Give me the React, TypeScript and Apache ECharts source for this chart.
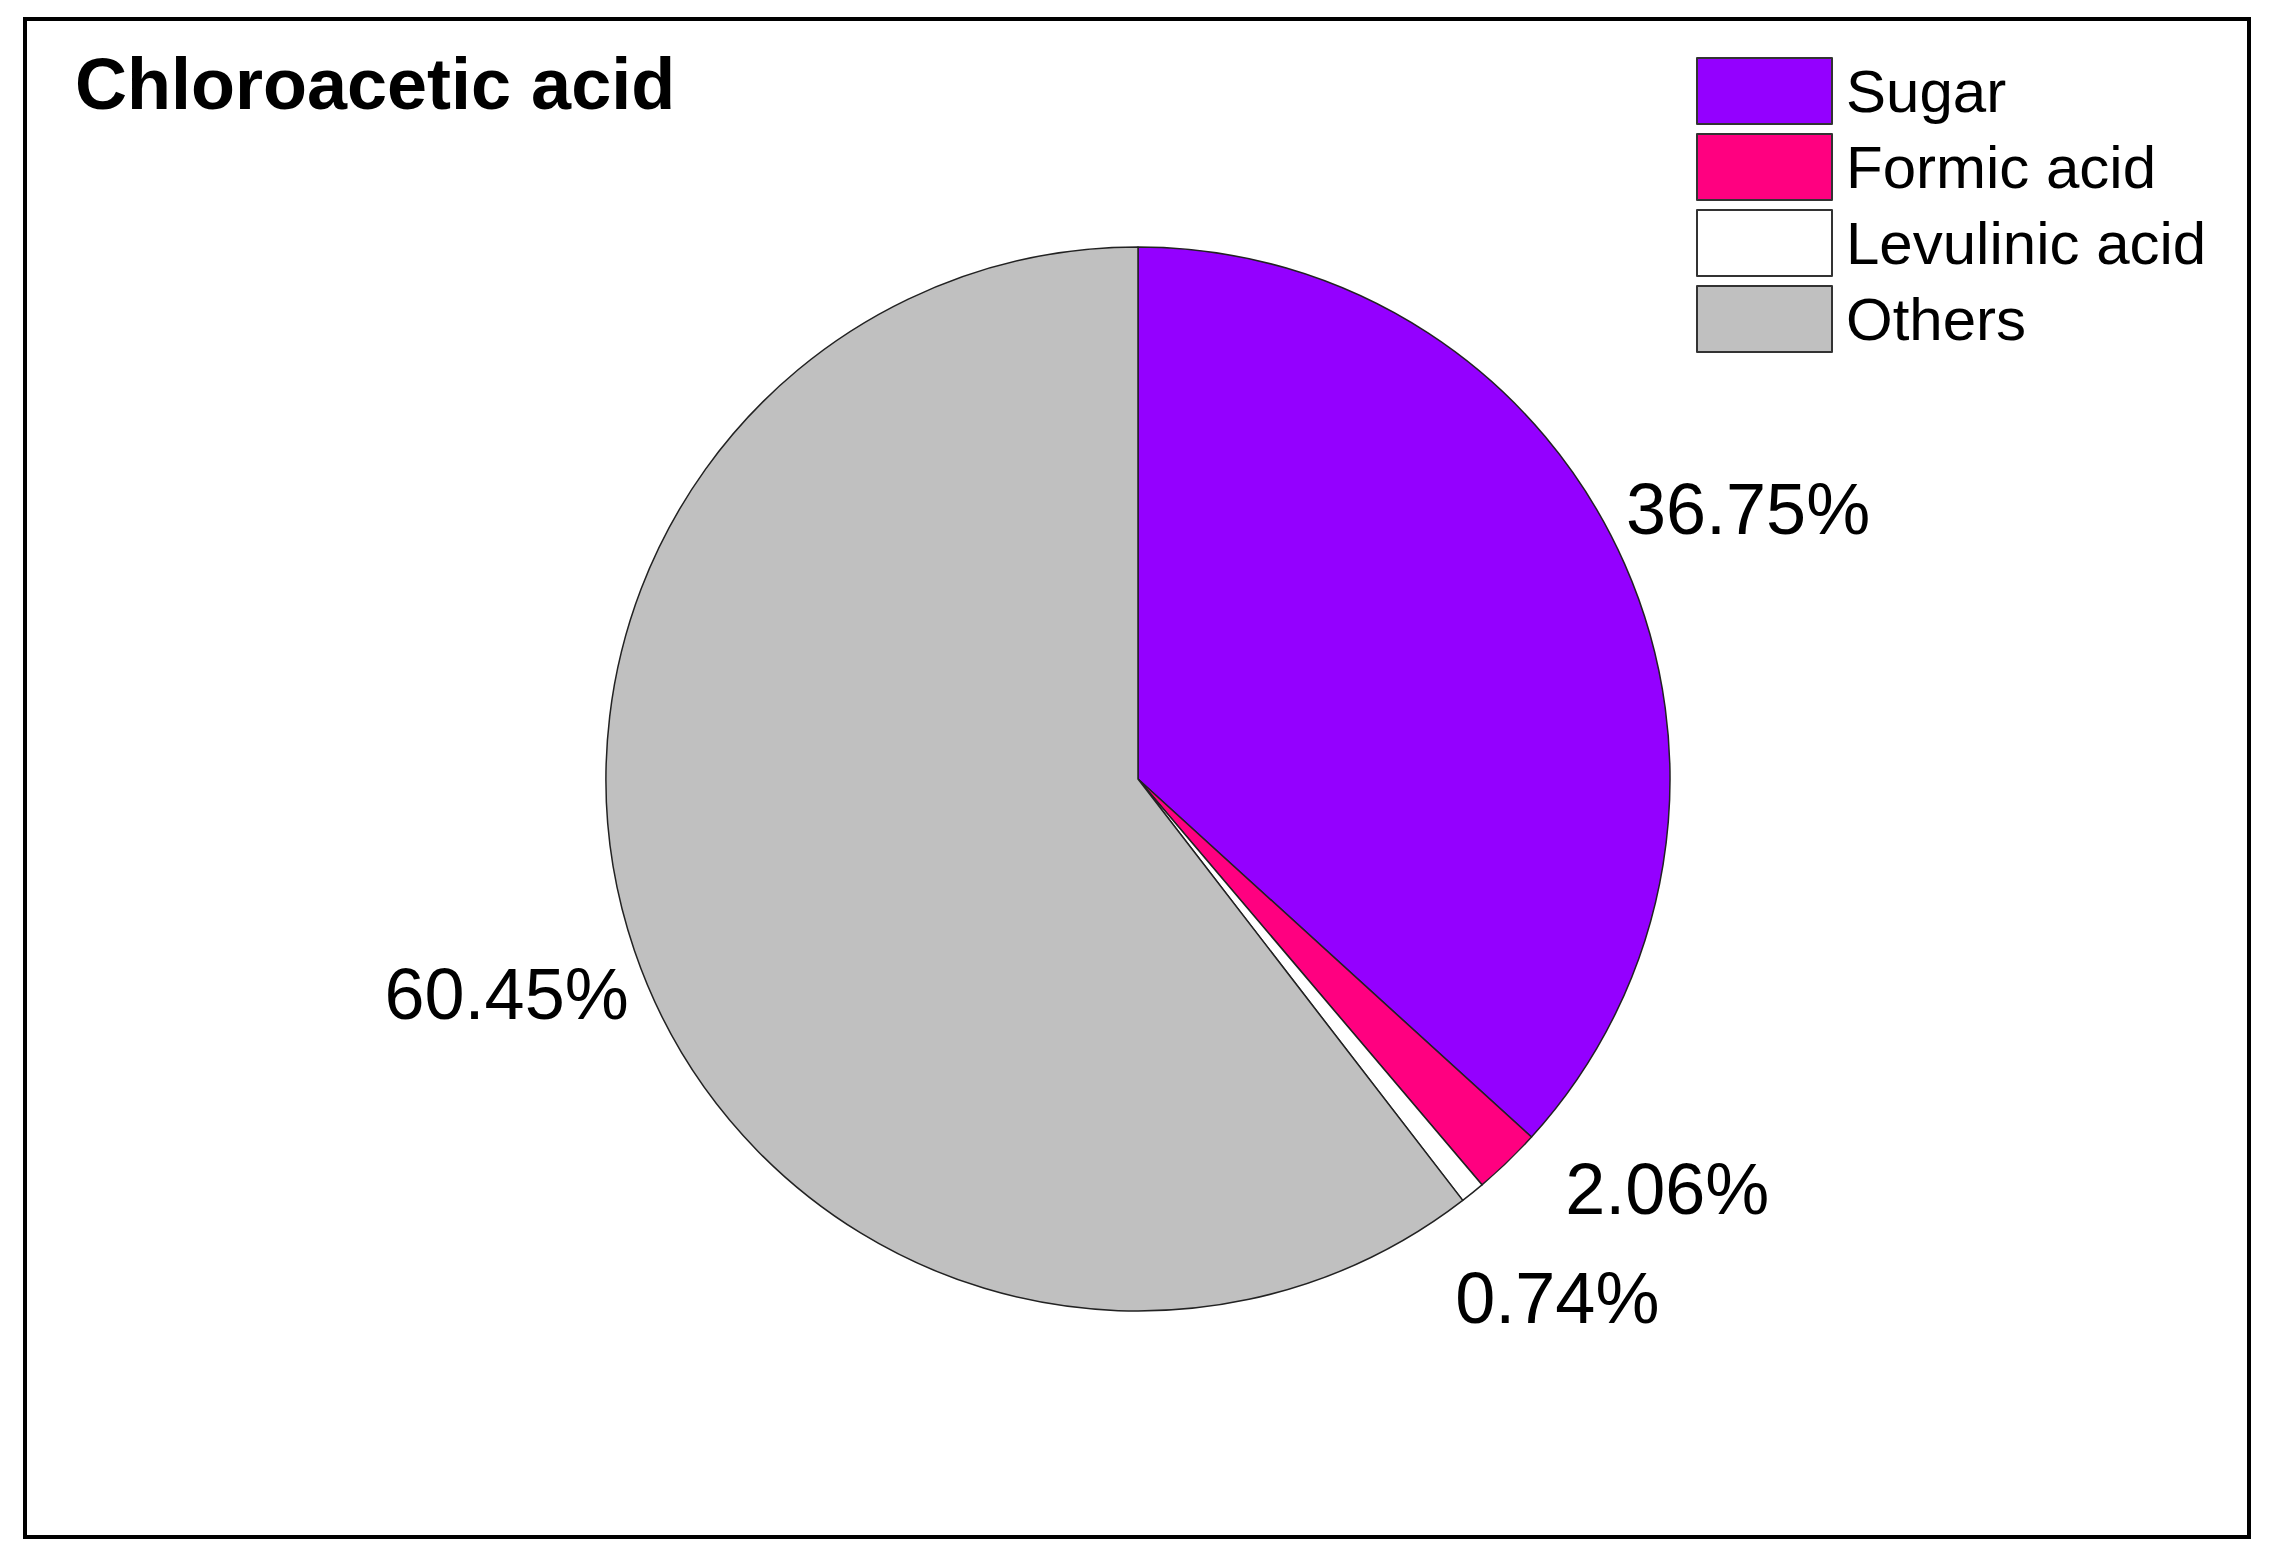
import React, { useEffect, useRef } from "react";
import * as echarts from "echarts";

const titleText = "Chloroacetic acid";
const categories = ["Sugar", "Formic acid", "Levulinic acid", "Others"];
const values = [36.75, 2.06, 0.74, 60.45];
const sliceColors = ["#9400FF", "#FF0080", "#FFFFFF", "#C0C0C0"];
const labelOffsets = [[0, 0], [66, -70], [0, 0], [0, 0]];

const FONT = "'Liberation Sans', Arial, sans-serif";

export default function App() {
  const ref = useRef<HTMLDivElement>(null);
  useEffect(() => {
    if (!ref.current) return;
    const chart = echarts.init(ref.current, null, { renderer: "svg" });
    const center = [1138, 779];
    const option = {
      animation: false,
      backgroundColor: "#ffffff",
      title: {
        text: titleText,
        left: 75,
        top: 48,
        padding: 0,
        textStyle: {
          fontFamily: FONT,
          fontSize: 72,
          fontWeight: "bold",
          color: "#000",
          lineHeight: 72,
        },
      },
      legend: {
        data: categories,
        orient: "vertical",
        left: 1696,
        top: 57,
        padding: 0,
        itemWidth: 135,
        itemHeight: 66,
        itemGap: 8,
        icon: "rect",
        selectedMode: false,
        itemStyle: { borderWidth: 2, borderColor: "#333" },
        textStyle: {
          fontFamily: FONT,
          fontSize: 60,
          color: "#000",
          lineHeight: 66,
          padding: [0, 0, 0, 9],
        },
      },
      graphic: [
        {
          type: "rect",
          shape: { x: 25, y: 19, width: 2224, height: 1518 },
          style: { fill: "none", stroke: "#000", lineWidth: 4 },
          silent: true,
          z: 10,
        },
      ],
      series: [
        {
          type: "pie",
          center,
          radius: [0, 532],
          startAngle: 90,
          clockwise: true,
          silent: true,
          label: { show: false },
          labelLine: { show: false },
          itemStyle: { borderColor: "#222", borderWidth: 1.5 },
          data: categories.map((name, i) => ({
            name,
            value: values[i],
            itemStyle: { color: sliceColors[i] },
          })),
        },
        {
          type: "pie",
          center,
          radius: [532, 796],
          startAngle: 90,
          clockwise: true,
          silent: true,
          z: 5,
          itemStyle: { color: "rgba(0,0,0,0)", borderWidth: 0 },
          labelLine: { show: false },
          label: {
            show: true,
            position: "inside",
            fontFamily: FONT,
            fontSize: 72,
            color: "#000",
            formatter: (p: any) => p.value.toFixed(2) + "%",
          },
          data: categories.map((name, i) => ({
            name,
            value: values[i],
            label: { offset: labelOffsets[i] },
          })),
        },
      ],
    };
    chart.setOption(option as any);
    return () => chart.dispose();
  }, []);
  return (
    <div
      ref={ref}
      style={{ position: "absolute", left: 0, top: 0, width: 2272, height: 1560 }}
    />
  );
}
